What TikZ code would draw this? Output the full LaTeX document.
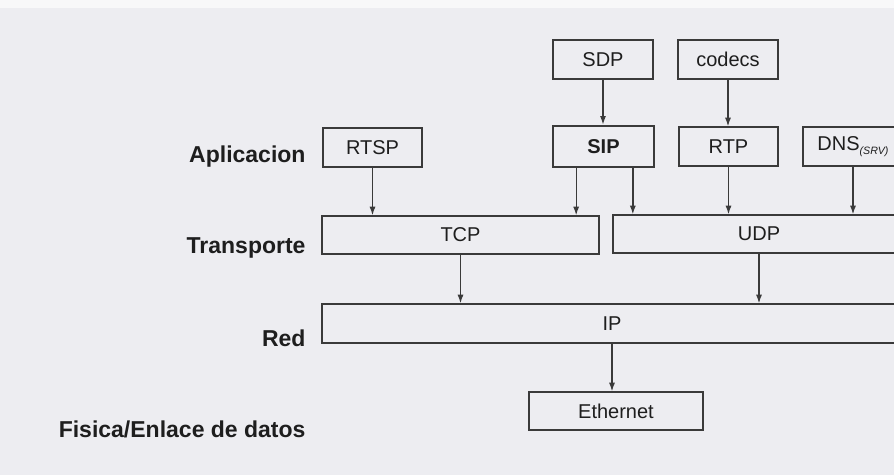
\documentclass[tikz,border=0pt]{standalone}
\usepackage{fontspec}
\setmainfont{Liberation Sans}
\usetikzlibrary{arrows.meta}

\definecolor{paper}{RGB}{237,237,241}
\definecolor{ink}{RGB}{30,30,30}
\definecolor{edge}{RGB}{58,58,58}

\tikzset{every picture/.style={line width=0.75pt}}
\tikzset{
  proto/.style={draw=edge, line width=0.9pt, text=ink, inner sep=0pt,
    minimum width=75pt, minimum height=29.25pt, font=\fontsize{15}{18}\selectfont},
  layer/.style={anchor=base east, inner sep=0pt, text=ink,
    font=\fontsize{17.25}{20}\selectfont\bfseries},
  arr/.style={draw=edge, line width=1pt, -{Latex[length=6.5pt,width=4.5pt]}}
}

\begin{document}
\begin{tikzpicture}[x=0.75pt,y=0.75pt,yscale=-1,xscale=1]
        \clip (0,0) rectangle (894,475);
        \fill[paper] (0,0) rectangle (894,475);
        \fill[white!60!paper] (0,0) rectangle (894,8);

        % Text Node
        \node [layer] (aplic) at (306,162.5) {Aplicacion};
        % Text Node
        \node [layer] (transp) at (306,253) {Transporte};
        % Text Node
        \node [layer] (red) at (306,346) {Red};
        % Text Node
        \node [layer] (fisica) at (306,437) {Fisica/Enlace de datos};

        % Application boxes
        \node [proto] (sdp) at (603,59.5) {SDP};
        \node [proto] (codecs) at (728,59.5) {codecs};
        \node [proto, minimum width=74.25pt] (rtsp) at (372.5,147.5) {RTSP};
        \node [proto, line width=1.9pt, minimum width=75.75pt, minimum height=30.75pt,
          font=\fontsize{15}{18}\selectfont\bfseries] (sip) at (603.5,146.5) {SIP};
        \node [proto, minimum width=74.25pt] (rtp) at (728.5,146.5) {RTP};
        \node [proto] (dns) at (853,146.5) {DNS\raisebox{-3pt}{\fontsize{8}{9}\selectfont\itshape (SRV)}};

        % Transport, network and link boxes
        \node [proto, minimum width=207.75pt, minimum height=28.5pt] (tcp) at (460.5,235) {TCP};
        \node [proto, minimum width=219pt, minimum height=28.5pt] (udp) at (759,234) {UDP};
        \node [proto, minimum width=435pt] (ip) at (612,323.5) {IP};
        \node [proto, minimum width=130.5pt, minimum height=28.5pt] (eth) at (616,411) {Ethernet};

        % Arrows
        \draw [arr] (sdp.south) -- (sdp.south |- sip.north);
        \draw [arr] (codecs.south) -- (codecs.south |- rtp.north);
        \draw [arr] (rtsp.south) -- (rtsp.south |- tcp.north);
        \draw [arr] ([xshift=-20.5pt]sip.south) -- ([xshift=-20.5pt]sip.south |- tcp.north);
        \draw [arr] ([xshift=22pt]sip.south) -- ([xshift=22pt]sip.south |- udp.north);
        \draw [arr] (rtp.south) -- (rtp.south |- udp.north);
        \draw [arr] (dns.south) -- (dns.south |- udp.north);
        \draw [arr] (tcp.south) -- (tcp.south |- ip.north);
        \draw [arr] (udp.south) -- (udp.south |- ip.north);
        \draw [arr] (ip.south) -- (ip.south |- eth.north);

    \end{tikzpicture}
\end{document}
